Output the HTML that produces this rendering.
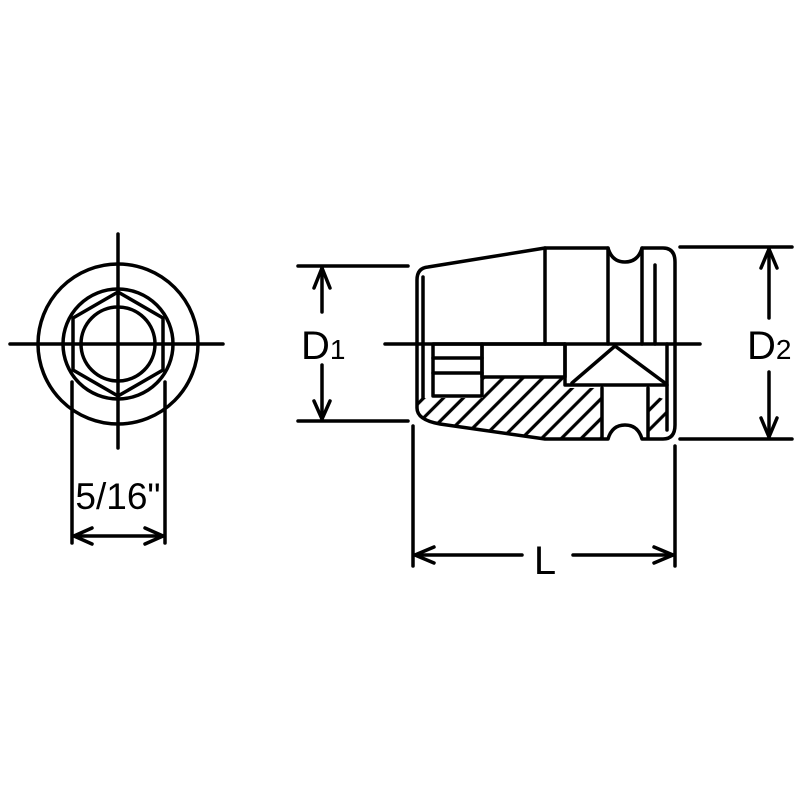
<!DOCTYPE html>
<html><head><style>body{margin:0;background:#fff}svg{display:block}</style></head><body>
<svg width="800" height="800" viewBox="0 0 800 800" xmlns="http://www.w3.org/2000/svg" fill="none" stroke="#000" stroke-width="3.5" stroke-linecap="round" stroke-linejoin="round">
<defs>
<pattern id="h" patternUnits="userSpaceOnUse" width="14" height="14" patternTransform="rotate(45)">
<line x1="7" y1="-1" x2="7" y2="15" stroke="#000" stroke-width="3.2"/>
</pattern>
</defs>
<!-- left view -->
<line x1="10" y1="344" x2="223" y2="344"/>
<line x1="118" y1="234" x2="118" y2="448"/>
<circle cx="118" cy="344" r="80"/>
<circle cx="118" cy="344" r="55"/>
<circle cx="118" cy="344" r="37"/>
<polygon points="118,292 163,318 163,370 118,396 73,370 73,318"/>
<line x1="72" y1="382" x2="72" y2="543"/>
<line x1="165" y1="382" x2="165" y2="543"/>
<line x1="74" y1="536" x2="163" y2="536"/>
<polyline points="92,528 74,536 92,544"/>
<polyline points="145,528 163,536 145,544"/>
<text x="118" y="509" font-family="Liberation Sans, sans-serif" font-size="37" fill="#000" stroke="none" text-anchor="middle">5/16"</text>
<!-- right view hatch -->
<path d="M417,398 L483,398 L483,377 L565,377 L565,388 L602,388 L602,439 L545,439 L440,424 Q417,418 417,408 Z" fill="url(#h)" stroke="none"/>
<path d="M648,394 L667,400 L667,425 Q665,437 650,438 L648,438 Z" fill="url(#h)" stroke="none"/>
<!-- outline -->
<path d="M417,408 L417,280 Q417,268 428,267 L545,248 L608,248 Q612,262 625,262 Q638,262 642,248 L663,248 Q675,248 675,262 L675,425 Q675,439 663,439 L642,439 Q638,425 625,425 Q612,425 608,439 L545,439 L440,424 Q417,420 417,408 Z"/>
<line x1="423" y1="277" x2="423" y2="398"/>
<line x1="545" y1="248" x2="545" y2="344"/>
<line x1="608" y1="248" x2="608" y2="344"/>
<line x1="642" y1="248" x2="642" y2="344"/>
<line x1="655" y1="265" x2="655" y2="344"/>
<line x1="385" y1="344" x2="700" y2="344"/>
<rect x="433" y="344" width="49" height="52"/>
<line x1="433" y1="358" x2="482" y2="358"/>
<line x1="433" y1="373" x2="482" y2="373"/>
<rect x="482" y="344" width="83" height="33"/>
<polyline points="565,344 565,385 667,385"/>
<polyline points="572,383 615,346 665,383"/>
<line x1="667" y1="344" x2="667" y2="430"/>
<line x1="602" y1="388" x2="602" y2="438"/>
<line x1="648" y1="388" x2="648" y2="438"/>
<!-- D1 -->
<line x1="298" y1="266" x2="408" y2="266"/>
<line x1="298" y1="421" x2="408" y2="421"/>
<line x1="322" y1="268" x2="322" y2="312"/>
<line x1="322" y1="365" x2="322" y2="419"/>
<polyline points="314,288 322,268 330,288"/>
<polyline points="314,401 322,419 330,401"/>
<text x="301" y="359" font-family="Liberation Sans, sans-serif" font-size="40" fill="#000" stroke="none">D<tspan font-size="28">1</tspan></text>
<!-- D2 -->
<line x1="680" y1="247" x2="792" y2="247"/>
<line x1="680" y1="439" x2="792" y2="439"/>
<line x1="769" y1="249" x2="769" y2="318"/>
<line x1="769" y1="372" x2="769" y2="437"/>
<polyline points="761,268 769,249 777,268"/>
<polyline points="761,418 769,437 777,418"/>
<text x="747" y="359" font-family="Liberation Sans, sans-serif" font-size="40" fill="#000" stroke="none">D<tspan font-size="28">2</tspan></text>
<!-- L -->
<line x1="413" y1="426" x2="413" y2="566"/>
<line x1="675" y1="446" x2="675" y2="566"/>
<line x1="415" y1="555" x2="522" y2="555"/>
<line x1="573" y1="555" x2="673" y2="555"/>
<polyline points="434,547 415,555 434,563"/>
<polyline points="654,547 673,555 654,563"/>
<text x="545" y="574" font-family="Liberation Sans, sans-serif" font-size="40" fill="#000" stroke="none" text-anchor="middle">L</text>
</svg>
</body></html>
